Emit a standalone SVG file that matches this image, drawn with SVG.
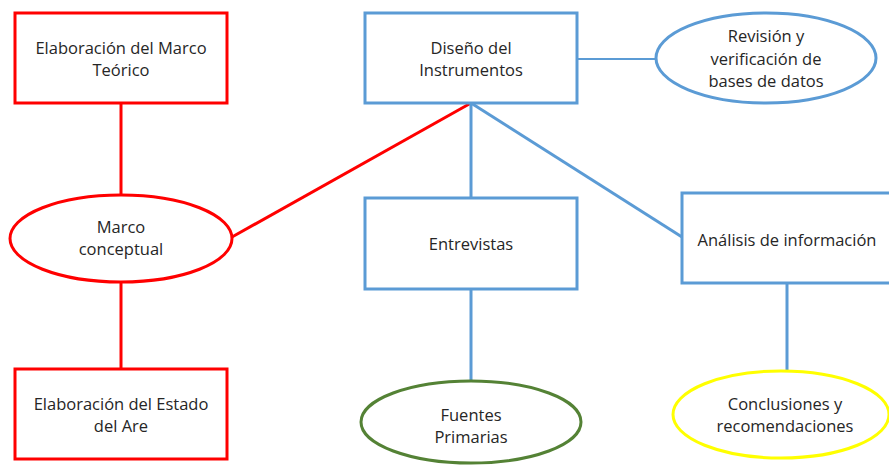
<svg xmlns="http://www.w3.org/2000/svg" width="889" height="467" viewBox="0 0 889 467">
<style>
.red{fill:#fff;stroke:#FF0000;stroke-width:3}
.blue{fill:#fff;stroke:#5B9BD5;stroke-width:3}
.green{fill:#fff;stroke:#548235;stroke-width:3}
.yellow{fill:#fff;stroke:#FFFF00;stroke-width:3}
.lr{stroke:#FF0000;stroke-width:3;fill:none}
.lb{stroke:#5B9BD5;stroke-width:3;fill:none}
text{font-family:"Open Sans","Liberation Sans",sans-serif;font-size:16.5px;fill:#262626;text-anchor:middle}
</style>
<rect width="889" height="467" fill="#fff"/>
<g id="connectors">
<line class="lr" x1="121" y1="103" x2="121" y2="195"/>
<line class="lr" x1="121" y1="282" x2="121" y2="369"/>
<line class="lr" x1="232" y1="237" x2="471" y2="103"/>
<line class="lb" x1="471" y1="103" x2="471" y2="198"/>
<line class="lb" x1="471" y1="103" x2="682" y2="237"/>
<line class="lb" x1="471" y1="289" x2="471" y2="381"/>
<line class="lb" x1="787" y1="283" x2="787" y2="371"/>
<line class="lb" style="stroke-width:2" x1="577" y1="59" x2="656" y2="59"/>
</g>
<g id="marco-teorico">
<rect class="red" x="15" y="13" width="212" height="90"/>
<text x="121" y="54">Elaboración del Marco</text>
<text x="121" y="76">Teórico</text>
</g>
<g id="marco-conceptual">
<ellipse class="red" cx="121" cy="238.5" rx="111" ry="43.5"/>
<text x="121" y="233">Marco</text>
<text x="121" y="255">conceptual</text>
</g>
<g id="estado-arte">
<rect class="red" x="15" y="369" width="212" height="90"/>
<text x="121" y="410">Elaboración del Estado</text>
<text x="121" y="432">del Are</text>
</g>
<g id="diseno">
<rect class="blue" x="365" y="13" width="212" height="90"/>
<text x="471" y="54">Diseño del</text>
<text x="471" y="76">Instrumentos</text>
</g>
<g id="revision">
<ellipse class="blue" cx="766" cy="58" rx="110" ry="45"/>
<text x="766" y="42">Revisión y</text>
<text x="766" y="65">verificación de</text>
<text x="766" y="87">bases de datos</text>
</g>
<g id="entrevistas">
<rect class="blue" x="365" y="198" width="212" height="91"/>
<text x="471" y="250">Entrevistas</text>
</g>
<g id="fuentes">
<ellipse class="green" cx="471" cy="422" rx="110" ry="41"/>
<text x="471" y="421">Fuentes</text>
<text x="471" y="443">Primarias</text>
</g>
<g id="analisis">
<rect class="blue" x="682" y="193" width="210" height="90"/>
<text x="787" y="246">Análisis de información</text>
</g>
<g id="conclusiones">
<ellipse class="yellow" cx="781" cy="414.5" rx="108" ry="43.5"/>
<text x="785" y="410">Conclusiones y</text>
<text x="785" y="432">recomendaciones</text>
</g>
</svg>
